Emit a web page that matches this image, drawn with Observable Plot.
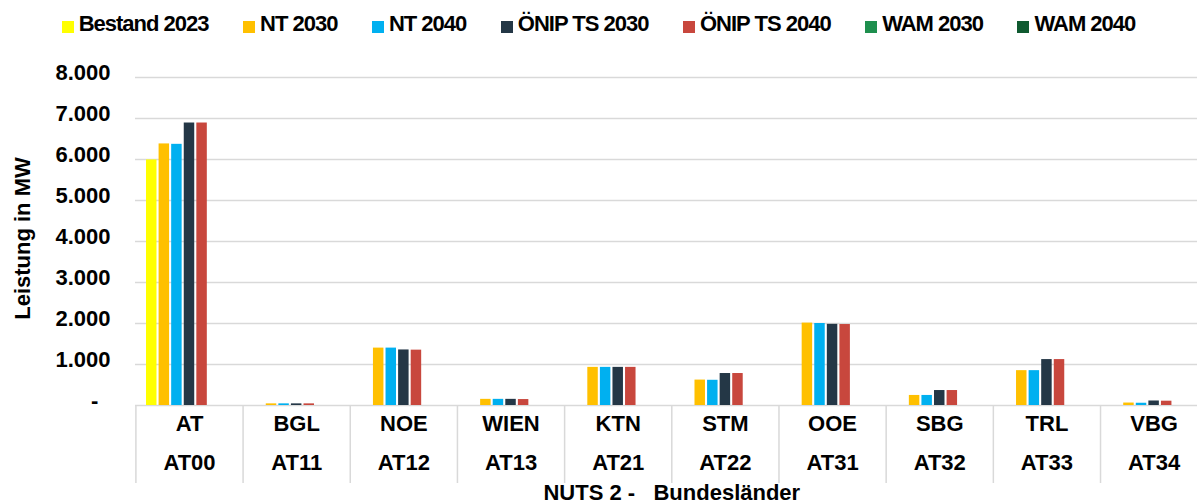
<!DOCTYPE html>
<html>
<head>
<meta charset="utf-8">
<script src="https://cdn.jsdelivr.net/npm/d3@7"></script>
<script src="https://cdn.jsdelivr.net/npm/@observablehq/plot@0.6"></script>
<style>
  html, body { margin: 0; padding: 0; background: #fff; overflow: hidden; }
  #wrap { position: relative; width: 1197px; height: 503px; overflow: hidden; }
  #legend {
    position: absolute; left: 0; top: 11px; width: 1197px;
    display: flex; justify-content: center; align-items: baseline; column-gap: 34.5px;
    font-family: "Liberation Sans", Arial, sans-serif; font-weight: bold; font-size: 22px;
    letter-spacing: -1px; color: #000; z-index: 2;
  }
  #legend .item { display: flex; align-items: baseline; }
  #legend .sw { display: inline-block; width: 12px; height: 12px; margin-right: 5px; position: relative; top: 1.5px; }
</style>
</head>
<body>
<div id="wrap">
  <div id="legend"></div>
  <div id="chart"></div>
</div>
<script>
// ---- Data ----
const categories = ["AT", "BGL", "NOE", "WIEN", "KTN", "STM", "OOE", "SBG", "TRL", "VBG"];
const nutsCodes  = ["AT00", "AT11", "AT12", "AT13", "AT21", "AT22", "AT31", "AT32", "AT33", "AT34"];
const seriesNames = ["Bestand 2023", "NT 2030", "NT 2040", "ÖNIP TS 2030", "ÖNIP TS 2040", "WAM 2030", "WAM 2040"];
const seriesColors = ["#FFFF00", "#FFC000", "#00B0F0", "#243746", "#C8473D", "#1E8F4E", "#0F5A30"];

const bestand2023 = [5990, null, null, null, null, null, null, null, null, null];
const nt2030      = [6380, 40, 1400, 150, 930, 620, 2010, 245, 850, 60];
const nt2040      = [6370, 40, 1400, 150, 930, 615, 2000, 245, 850, 55];
const onipTs2030  = [6890, 40, 1355, 150, 930, 780, 1980, 365, 1120, 110];
const onipTs2040  = [6890, 40, 1350, 145, 930, 780, 1975, 365, 1120, 105];
const wam2030     = [null, null, null, null, null, null, null, null, null, null];
const wam2040     = [null, null, null, null, null, null, null, null, null, null];

const yTicks = [0, 1000, 2000, 3000, 4000, 5000, 6000, 7000, 8000];
const yTitle = "Leistung in MW";
const xTitle = "NUTS 2 -\u00a0\u00a0 Bundesländer";

// ---- Build table ----
const seriesValues = [bestand2023, nt2030, nt2040, onipTs2030, onipTs2040, wam2030, wam2040];
const table = [];
seriesValues.forEach((vals, j) => {
  vals.forEach((v, i) => {
    if (v != null) table.push({i, category: categories[i], series: seriesNames[j], value: v});
  });
});

// slot of each series inside a category (category width = 1 unit)
const slot = d3.scaleBand().domain(seriesNames).range([0, 1]).paddingInner(0.167).paddingOuter(0.843);

const de = d3.formatLocale({decimal: ",", thousands: ".", grouping: [3], currency: ["", " €"]});
const fmt = de.format(",d");
const tickLabel = d => d === 0 ? "-\u00a0\u00a0" : fmt(d);

const font = "Liberation Sans, Arial, sans-serif";

// ---- Legend ----
const legend = document.getElementById("legend");
seriesNames.forEach((name, j) => {
  const item = document.createElement("div");
  item.className = "item";
  const sw = document.createElement("span");
  sw.className = "sw";
  sw.style.background = seriesColors[j];
  const t = document.createElement("span");
  t.textContent = name;
  item.appendChild(sw); item.appendChild(t);
  legend.appendChild(item);
});

// ---- Chart ----
const catIdx = categories.map((c, i) => i);
const dividers = d3.range(categories.length + 1);

const chart = Plot.plot({
  width: 1197,
  height: 503,
  marginTop: 77,
  marginBottom: 98,
  marginLeft: 135,
  marginRight: 0,
  style: {fontFamily: font, fontWeight: "bold", color: "#000", background: "#fff", overflow: "hidden"},
  x: {type: "linear", domain: [0, categories.length], range: [135.4, 1207.2], axis: null},
  y: {domain: [0, 8000], axis: null},
  color: {domain: seriesNames, range: seriesColors},
  marks: [
    Plot.ruleY(yTicks, {y: d => d, stroke: "#d9d9d9", strokeWidth: 1.5}),
    Plot.ruleX(dividers, {x: d => d, stroke: "#d9d9d9", strokeWidth: 1.5, insetTop: 328, insetBottom: -78}),
    Plot.rectY(table, {
      x1: d => d.i + slot(d.series),
      x2: d => d.i + slot(d.series) + slot.bandwidth(),
      y: "value",
      fill: "series"
    }),
    Plot.text(yTicks, {y: d => d, text: tickLabel, frameAnchor: "left", textAnchor: "end", dx: -25, dy: -5,
      fontSize: 22, fontWeight: "bold", fill: "#000"}),
    Plot.text(catIdx, {x: d => d + 0.5, text: d => categories[d], frameAnchor: "bottom", dy: 25,
      fontSize: 22, fontWeight: "bold", fill: "#000", letterSpacing: -1}),
    Plot.text(catIdx, {x: d => d + 0.5, text: d => nutsCodes[d], frameAnchor: "bottom", dy: 64,
      fontSize: 22, fontWeight: "bold", fill: "#000", letterSpacing: -1}),
    Plot.text([xTitle], {x: 5, text: d => d, frameAnchor: "bottom", dy: 94,
      fontSize: 22, fontWeight: "bold", fill: "#000", letterSpacing: -1}),
    Plot.text([yTitle], {text: d => d, frameAnchor: "left", textAnchor: "middle", rotate: -90, dx: -113, dy: -3,
      fontSize: 22, fontWeight: "bold", fill: "#000", letterSpacing: -0.5})
  ]
});
document.getElementById("chart").appendChild(chart);
</script>
</body>
</html>
